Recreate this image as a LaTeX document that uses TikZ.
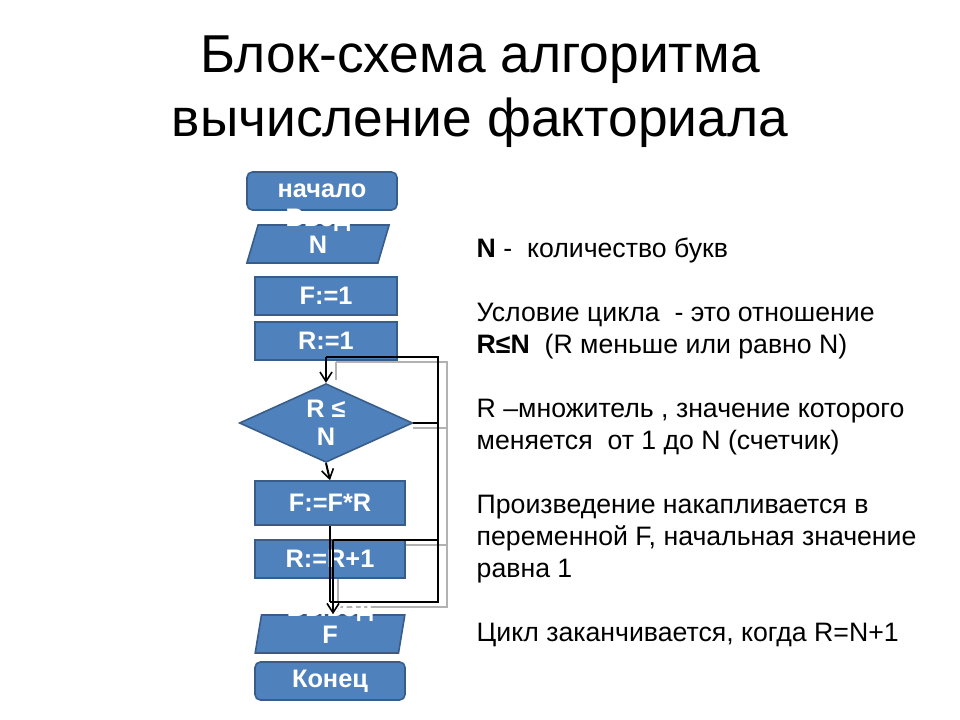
\documentclass[tikz,border=0pt]{standalone}
\usepackage{fontspec}
\setmainfont{Liberation Sans}
\usetikzlibrary{shapes.geometric,arrows.meta}
\definecolor{bx}{RGB}{79,129,189}
\definecolor{bd}{RGB}{56,93,138}
\begin{document}
\begin{tikzpicture}[x=0.75pt,y=-0.75pt,
  blk/.style={draw=bd,fill=bx,line width=1.2pt,text=white,font=\bfseries\fontsize{19}{21}\selectfont,inner sep=0pt,align=center},
  fl/.style={line width=2pt,black},
  sh/.style={line width=1.5pt,gray!60},
  arr/.style={-{Straight Barb[length=7pt,width=9pt,line width=1.2pt]},line width=1.5pt}]
\useasboundingbox (0,0) rectangle (960,720);
\node[font=\fontsize{40}{48}\selectfont,align=center] (title) at (480,92) {Блок-схема алгоритма\\вычисление факториала};
% shadows of connectors
\draw[sh] (336,362)--(447,362)--(447,607)--(338,607);
\draw[sh] (413,428)--(447,428);
\draw[sh] (338,545)--(447,545);
\draw[sh] (336,362)--(336,380);
\draw[sh] (338,545)--(338,612);
% nodes
\node[blk,rounded corners=4pt,minimum width=112.5pt,minimum height=28.5pt] (start) at (322,191) {начало};
\node[blk,trapezium,trapezium stretches=true,trapezium left angle=72,trapezium right angle=108,minimum width=107pt,minimum height=28.5pt,text height=14pt,text depth=0pt] (in) at (318,244) {Ввод\\[-1pt]N};
\node[blk,minimum width=106.5pt,minimum height=28.5pt] (f1) at (326,296) {F:=1};
\node[blk,minimum width=106.5pt,minimum height=28.5pt] (r1) at (326,341) {R:=1};
\node[blk,diamond,aspect=2.2,minimum width=130pt,minimum height=59pt] (cond) at (326,423) {R ≤\\N};
\node[blk,minimum width=112.5pt,minimum height=33pt] (ff) at (330,503) {F:=F*R};
\node[blk,minimum width=112.5pt,minimum height=28.5pt] (rr) at (330,559) {R:=R+1};
\node[blk,trapezium,trapezium stretches=true,trapezium left angle=78,trapezium right angle=102,minimum width=112.5pt,minimum height=28.5pt,text height=14pt,text depth=0pt] (out) at (330,634) {Вывод\\[-1pt]F};
\node[blk,rounded corners=4pt,minimum width=112.5pt,minimum height=28.5pt] (end) at (330,681) {Конец};
% connectors
\coordinate (a) at (438,357);
\coordinate (b) at (438,602);
\coordinate (c) at (438,540);
\draw[fl] (326,357)--(a)--(b)--(330,602);
\draw[fl] (cond.east)--(438,423);
\draw[fl] (333,540)--(c);
\draw[fl,arr] (326,357)--(cond.north);
\draw[fl,arr] (cond.south)--(ff.north);
\draw[fl] (ff.south)--(330,602);
\draw[fl,arr] (333,540)--(out.north-|333,0);
% text
\node[anchor=north west,align=left,font=\fontsize{20}{24}\selectfont] (txt) at (472,233) {%
\textbf{N} -\ \ количество букв\\[24pt]
Условие цикла\ \ - это отношение\\
\textbf{R≤N}\ \ (R меньше или равно N)\\[24pt]
R –множитель , значение которого\\
меняется\ \ от 1 до N (счетчик)\\[24pt]
Произведение накапливается в\\
переменной F, начальная значение\\
равна 1\\[24pt]
Цикл заканчивается, когда R=N+1};
\end{tikzpicture}
\end{document}
